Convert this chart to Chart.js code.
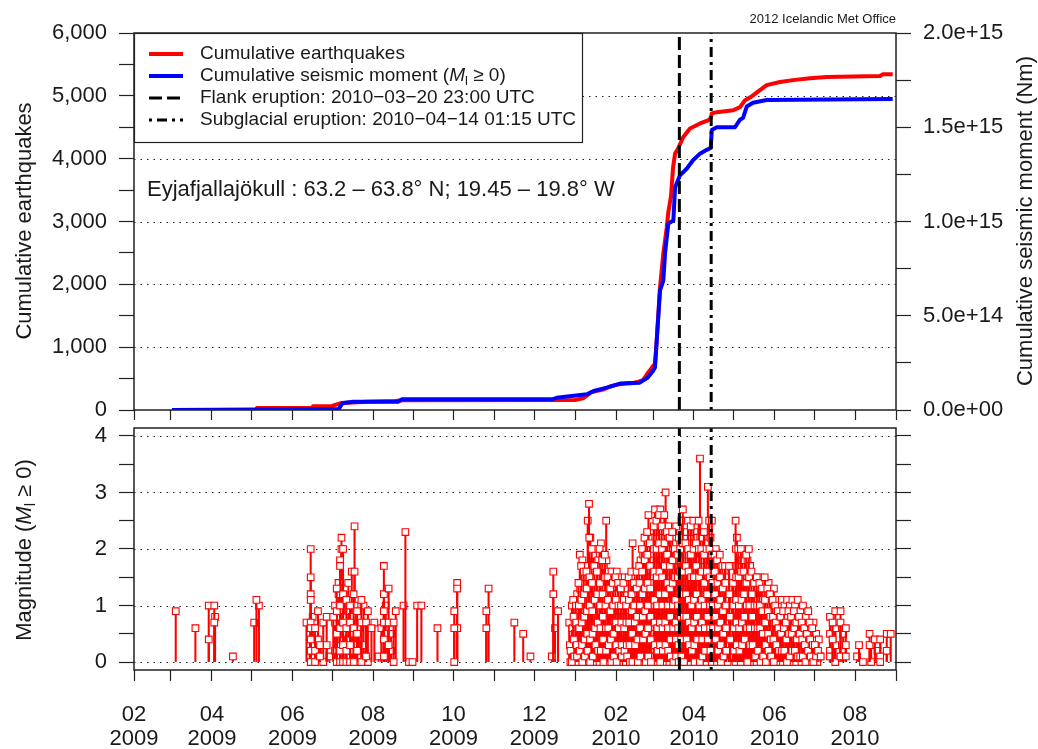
<!DOCTYPE html>
<html>
<head>
<meta charset="utf-8">
<script src="https://cdn.jsdelivr.net/npm/chart.js@4.4.1/dist/chart.umd.min.js"></script>
<style>
  html, body { margin: 0; padding: 0; background: #fff; }
  #wrap { position: relative; width: 1038px; height: 749px; overflow: hidden; }
  #topChart { position: absolute; left: 0; top: 0; width: 1038px; height: 420px; }
  #magChart { position: absolute; left: 0; top: 420px; width: 1038px; height: 329px; }
</style>
</head>
<body>
<div id="wrap">
  <canvas id="topChart" width="1038" height="420"></canvas>
  <canvas id="magChart" width="1038" height="329"></canvas>
</div>
<script>
// all x values are days since 2009-02-01 00:00 UTC
const START = Date.UTC(2009, 1, 1);
function dayOf(iso) { return (Date.parse(iso) - START) / 86400000; }

const tickMonths = ['2009-02', '2009-03', '2009-04', '2009-05', '2009-06', '2009-07', '2009-08',
  '2009-09', '2009-10', '2009-11', '2009-12', '2010-01', '2010-02', '2010-03', '2010-04',
  '2010-05', '2010-06', '2010-07', '2010-08', '2010-09'];

const flankEruption = '2010-03-20T23:00:00Z';
const subglacialEruption = '2010-04-14T01:15:00Z';

const countTickValues = [0, 500, 1000, 1500, 2000, 2500, 3000, 3500, 4000, 4500, 5000, 5500, 6000];
const countTickLabels = ['0', '', '1,000', '', '2,000', '', '3,000', '', '4,000', '', '5,000', '', '6,000'];
const countGrid = [1000, 2000, 3000, 4000, 5000];

const momentTickValues = [0, 2.5e14, 5e14, 7.5e14, 1e15, 1.25e15, 1.5e15, 1.75e15, 2e15];
const momentTickLabels = ['0.0e+00', '', '5.0e+14', '', '1.0e+15', '', '1.5e+15', '', '2.0e+15'];

const magTickValues = [0, 0.5, 1, 1.5, 2, 2.5, 3, 3.5, 4];
const magTickLabels = ['0', '', '1', '', '2', '', '3', '', '4'];
const magGrid = [0, 1, 2, 3, 4];
const magMin = -0.14, magMax = 4.14;

// cumulative number of earthquakes
const eqDays = [28.8, 93.0, 93.1, 135.4, 135.5, 150, 156, 166, 176, 198, 203, 334, 340, 343, 346,
  350, 356, 360, 365, 372, 378, 382, 385, 387, 389, 391, 393, 394.5, 395.8, 398.3, 400.8, 403.4,
  404.6, 406.6, 408.2, 409.7, 412, 415.8, 421, 428.6, 434.7, 436.6, 437.5, 441.3, 453.7, 458.9,
  462.7, 467.7, 474, 479.1, 489.2, 499, 511.9, 524.5, 564.9, 567.2, 574.5];
const eqCount = [0, 0, 30, 30, 60, 65, 107, 120, 132, 145, 155, 160, 185, 230, 280,
  300, 330, 370, 400, 420, 430, 450, 470, 520, 590, 640, 700, 734, 1100, 1950, 2490, 2900,
  3150, 3400, 3860, 4080, 4160, 4340, 4480, 4560, 4610, 4640, 4720, 4740, 4770, 4820,
  4930, 4990, 5090, 5170, 5220, 5250, 5280, 5300, 5315, 5345, 5345];

// cumulative seismic moment (Nm)
const momentDays = [28.8, 155, 158, 166, 200, 203, 317, 320, 343, 348, 352, 358, 368, 383, 389,
  393, 394.5, 395.8, 398.3, 400.8, 402.1, 404.6, 408.4, 409.7, 413.4, 418.5, 423.3, 428.6, 433.7,
  436.7, 437.5, 441.3, 455.1, 458.9, 461.2, 464, 468.7, 479.1, 574.5];
const momentNm = [0, 5e12, 3.7e13, 4.4e13, 4.4e13, 5.7e13, 5.7e13, 6.5e13, 8.3e13, 1.01e14, 1.08e14,
  1.19e14, 1.4e14, 1.45e14, 1.72e14, 2.07e14, 2.25e14, 3.67e14, 6.33e14, 6.86e14, 8.3e14, 9.9e14,
  1.005e15, 1.18e15, 1.245e15, 1.28e15, 1.325e15, 1.36e15, 1.38e15, 1.39e15, 1.485e15, 1.5e15,
  1.5e15, 1.54e15, 1.55e15, 1.61e15, 1.63e15, 1.645e15, 1.65e15];

// magnitudes: [day, magnitudes...]
const quakes2009Spring = [
  [31.6, 0.9], [46.5, 0.6], [56.6, 1.0, 0.4], [60.8, 1.0, 0.7], [61.4, 0.8], [74.9, 0.1],
  [91.0, 0.7], [92.7, 1.1], [94.6, 1.0]
];
const quakes2009Summer = [
  [130.6, 0.7], [133.8, 2.0, 1.5, 1.2, 1.1, 0.7, 0.6, 0.4, 0.2, 0.0], [135.3, 0.8, 0.6, 0.3, 0.1],
  [137.1, 0.6, 0.2, 0.0], [139.3, 0.9, 0.4, 0.2], [140.8, 0.3, 0.1], [143.3, 0.7, 0.0],
  [145.9, 0.8, 0.3], [147.9, 0.1], [150.9, 0.8], [152.2, 1.0, 0.7, 0.2], [153.5, 1.3, 0.9, 0.5, 0.0],
  [154.9, 1.4, 1.2, 0.8, 0.3, 0.1], [156.0, 1.8, 1.7, 1.0, 0.6, 0.2, 0.0], [157.1, 2.2, 2.0, 1.3, 0.9, 0.4],
  [158.3, 2.0, 1.2, 0.7, 0.3, 0.0], [159.5, 1.3, 0.8, 0.5, 0.1], [160.8, 1.1, 0.6, 0.2, 0.0],
  [162.2, 1.4, 0.9, 0.4, 0.1], [163.6, 1.0, 0.7, 0.3, 0.0], [164.9, 1.6, 0.8, 0.5, 0.2],
  [166.3, 1.2, 0.6, 0.0], [167.0, 2.4, 1.6, 1.0, 0.3], [168.9, 0.9, 0.5, 0.2], [170.3, 0.6, 0.1, 0.0],
  [172.2, 1.1, 0.7, 0.0], [173.8, 1.0, 0.3], [175.7, 0.7, 0.1], [177.1, 0.9, 0.0], [179.8, 0.6],
  [182.0, 0.7], [185.2, 0.1], [187.3, 0.6], [189.2, 1.7, 1.2, 0.9, 0.7, 0.4, 0.1], [190.6, 1.0, 0.5, 0.1],
  [192.8, 1.3, 0.7, 0.3], [194.7, 0.5, 0.2], [196.6, 0.7, 0.0], [198.2, 0.9]
];
const quakes2009Autumn = [
  [204.1, 1.0], [205.5, 2.3], [208.2, 0.0], [210.9, 0.0], [214.4, 1.0], [217.6, 1.0], [229.8, 0.6],
  [242.5, 0.9, 0.6, 0.0], [244.7, 1.4, 1.3, 0.6], [266.8, 0.9, 0.6], [268.5, 1.3], [288.0, 0.7],
  [294.7, 0.5], [300.2, 0.1], [316.4, 0.1], [317.5, 1.6, 1.2], [318.8, 0.6], [321.1, 0.9]
];
const quakes2010Winter = [
  [330, 0.7, 0.3, 0.0], [331, 0.2, 0.0], [332, 1.0, 0.6, 0.2], [333, 1.1, 0.8, 0.4, 0.1],
  [334, 0.7, 0.5, 0.2, 0.0], [335, 1.0, 0.7, 0.3, 0.1], [336, 1.2, 0.9, 0.4, 0.0], [337, 1.4, 1.0, 0.6, 0.2],
  [338, 1.9, 1.3, 0.8, 0.5, 0.1], [339, 1.7, 1.1, 0.7, 0.3, 0.0], [340, 1.8, 1.4, 0.9, 0.6, 0.2],
  [341, 1.6, 1.2, 0.8, 0.4, 0.1], [342, 1.5, 1.0, 0.7, 0.3, 0.0], [343, 1.6, 1.3, 0.9, 0.5, 0.2],
  [344, 2.5, 1.7, 1.1, 0.6, 0.1], [345, 2.8, 2.2, 1.5, 1.0, 0.4, 0.0], [346, 2.2, 1.6, 1.2, 0.7, 0.3],
  [347, 2.0, 1.4, 0.9, 0.5, 0.1], [348, 1.9, 1.3, 0.8, 0.2, 0.0], [349, 1.7, 1.1, 0.6, 0.3],
  [350, 2.0, 1.5, 1.0, 0.4, 0.1], [351, 1.6, 1.2, 0.7, 0.2], [352, 1.8, 1.3, 0.9, 0.5, 0.0],
  [353, 2.0, 1.4, 1.0, 0.6, 0.2], [354, 2.1, 1.7, 1.1, 0.7, 0.3], [355, 1.8, 1.2, 0.8, 0.4, 0.0],
  [356, 1.7, 1.3, 0.9, 0.3, 0.1], [357, 1.9, 1.5, 1.0, 0.6, 0.2], [358, 2.5, 1.8, 1.2, 0.7, 0.0],
  [359, 1.5, 1.1, 0.6, 0.3], [360, 1.6, 1.0, 0.5, 0.1], [361, 1.3, 0.9, 0.4, 0.0], [362, 1.6, 1.2, 0.7, 0.2],
  [363, 1.4, 1.0, 0.5, 0.1], [364, 1.2, 0.8, 0.3, 0.0],
  [365, 1.5, 1.1, 0.7, 0.3, 0.0], [366, 1.6, 1.2, 0.8, 0.4, 0.1], [367, 1.4, 1.0, 0.6, 0.2],
  [368, 1.5, 1.1, 0.9, 0.5, 0.0], [369, 1.3, 1.0, 0.7, 0.3, 0.1], [370, 1.2, 0.8, 0.5, 0.0],
  [371, 1.4, 1.1, 0.6, 0.2], [372, 1.5, 1.2, 0.8, 0.4, 0.0], [373, 1.0, 0.7, 0.3, 0.1],
  [374, 1.3, 0.9, 0.6, 0.2], [375, 1.5, 1.1, 0.7, 0.3, 0.0], [376, 1.1, 0.8, 0.4, 0.1],
  [377, 1.6, 1.2, 0.9, 0.5, 0.0], [378, 2.1, 1.5, 1.0, 0.6, 0.2], [379, 1.4, 1.0, 0.7, 0.3],
  [380, 1.2, 0.9, 0.5, 0.1], [381, 1.6, 1.3, 0.8, 0.4, 0.0], [382, 1.5, 1.1, 0.7, 0.2],
  [383, 1.7, 1.4, 1.0, 0.6, 0.1], [384, 1.8, 1.5, 1.1, 0.7, 0.3, 0.0], [385, 2.0, 1.6, 1.2, 0.8, 0.4],
  [386, 1.9, 1.4, 1.0, 0.5, 0.2], [387, 2.2, 1.8, 1.3, 0.9, 0.5, 0.0], [388, 2.0, 1.6, 1.2, 0.7, 0.3],
  [389, 2.3, 1.9, 1.4, 1.0, 0.6, 0.1], [390, 2.6, 2.0, 1.5, 1.1, 0.7, 0.2], [391, 2.1, 1.7, 1.3, 0.8, 0.4, 0.0],
  [392, 1.9, 1.5, 1.1, 0.6, 0.2]
];
const quakes2010Eruption = [
  [393, 2.2, 1.8, 1.4, 1.0, 0.5, 0.1], [394, 2.4, 2.0, 1.6, 1.1, 0.7, 0.3], [395, 2.7, 2.2, 1.7, 1.2, 0.8, 0.4, 0.0],
  [396, 2.5, 2.0, 1.5, 1.0, 0.6, 0.2], [397, 2.3, 1.9, 1.4, 0.9, 0.5, 0.1], [398, 2.6, 2.1, 1.6, 1.2, 0.7, 0.3, 0.0],
  [399, 2.7, 2.3, 1.8, 1.3, 0.9, 0.4], [400, 2.4, 2.0, 1.5, 1.0, 0.6, 0.2], [401, 2.2, 1.8, 1.3, 0.8, 0.4, 0.0],
  [402, 2.6, 2.1, 1.7, 1.2, 0.7, 0.3], [403, 3.0, 2.4, 1.9, 1.4, 0.9, 0.5, 0.1], [404, 2.3, 1.9, 1.4, 1.0, 0.6, 0.2],
  [405, 2.4, 2.0, 1.5, 1.1, 0.7, 0.0], [406, 2.2, 1.7, 1.3, 0.8, 0.4, 0.1], [407, 2.0, 1.6, 1.2, 0.9, 0.5, 0.2],
  [408, 2.3, 1.8, 1.4, 1.0, 0.6, 0.0], [409, 2.1, 1.7, 1.2, 0.8, 0.3], [410, 2.0, 1.5, 1.1, 0.7, 0.4, 0.1],
  [411, 2.4, 1.9, 1.5, 1.0, 0.6, 0.2], [412, 1.9, 1.5, 1.0, 0.6, 0.3, 0.0], [413, 2.2, 1.8, 1.3, 0.9, 0.5],
  [414, 2.0, 1.6, 1.2, 0.8, 0.4, 0.1], [415, 2.5, 2.0, 1.5, 1.1, 0.7, 0.3], [416, 2.7, 2.1, 1.6, 1.2, 0.8, 0.0],
  [417, 2.2, 1.8, 1.3, 0.9, 0.5, 0.2], [418, 2.1, 1.7, 1.2, 0.8, 0.4], [419, 2.3, 1.9, 1.4, 1.0, 0.6, 0.1],
  [420, 2.5, 2.0, 1.6, 1.1, 0.7, 0.3], [421, 2.1, 1.6, 1.2, 0.8, 0.4, 0.0], [422, 2.4, 1.9, 1.5, 1.0, 0.6, 0.2],
  [423, 2.0, 1.6, 1.1, 0.7, 0.3],
  [424, 2.5, 2.0, 1.5, 1.1, 0.7, 0.3, 0.0], [425, 2.3, 1.8, 1.4, 0.9, 0.5, 0.1], [426, 2.1, 1.7, 1.2, 0.8, 0.4],
  [427, 2.2, 1.8, 1.3, 0.9, 0.5, 0.2], [428, 2.5, 2.0, 1.5, 1.0, 0.6, 0.0], [429, 3.6, 2.2, 1.7, 1.2, 0.8, 0.3],
  [430, 2.0, 1.6, 1.1, 0.7, 0.4, 0.1], [431, 2.2, 1.8, 1.3, 0.9, 0.5], [432, 2.3, 1.9, 1.4, 1.0, 0.6, 0.2],
  [433, 1.9, 1.5, 1.1, 0.7, 0.3, 0.0], [434, 2.0, 1.6, 1.2, 0.8, 0.4], [435, 3.1, 2.1, 1.7, 1.2, 0.8, 0.4, 0.1],
  [436, 2.5, 2.0, 1.5, 1.0, 0.6, 0.2], [437, 2.2, 1.8, 1.3, 0.9, 0.5, 0.0], [438, 2.5, 1.9, 1.4, 1.0, 0.6],
  [439, 1.9, 1.5, 1.1, 0.7, 0.3, 0.1], [440, 1.9, 1.6, 1.2, 0.8, 0.4], [441, 2.0, 1.6, 1.1, 0.7, 0.3, 0.0],
  [442, 1.8, 1.4, 1.0, 0.6, 0.2], [443, 1.7, 1.3, 0.9, 0.5, 0.1], [444, 1.9, 1.5, 1.1, 0.7, 0.3, 0.0],
  [445, 1.6, 1.2, 0.8, 0.4], [446, 1.7, 1.3, 0.9, 0.5, 0.1], [447, 1.6, 1.2, 0.8, 0.3],
  [448, 1.7, 1.4, 1.0, 0.6, 0.2], [449, 1.5, 1.1, 0.7, 0.3, 0.0], [451, 1.7, 1.2, 0.8, 0.4],
  [452, 1.3, 0.9, 0.5, 0.1], [454, 1.4, 1.0, 0.6, 0.2]
];
const quakes2010Summer = [
  [455, 1.7, 1.3, 0.9, 0.5, 0.0], [456, 2.5, 2.0, 1.5, 1.1, 0.7, 0.3], [457, 2.2, 1.7, 1.2, 0.8, 0.4, 0.1],
  [458, 2.0, 1.5, 1.0, 0.6, 0.2], [459, 1.9, 1.4, 1.0, 0.6, 0.0], [460, 2.0, 1.6, 1.1, 0.7, 0.3],
  [461, 1.8, 1.4, 0.9, 0.5, 0.1], [462, 1.6, 1.2, 0.8, 0.4], [463, 2.0, 1.5, 1.1, 0.7, 0.2],
  [464, 1.9, 1.4, 1.0, 0.6, 0.0], [465, 1.8, 1.3, 0.9, 0.5, 0.1], [466, 2.0, 1.5, 1.0, 0.6, 0.3],
  [467, 1.7, 1.3, 0.8, 0.4, 0.0], [468, 1.6, 1.2, 0.8, 0.3], [469, 1.5, 1.1, 0.7, 0.2],
  [470, 1.4, 1.0, 0.6, 0.1], [471, 1.5, 1.1, 0.7, 0.3, 0.0], [472, 1.5, 1.0, 0.6, 0.2],
  [473, 1.3, 0.9, 0.5, 0.1], [474, 1.4, 1.0, 0.6, 0.0], [475, 1.5, 1.1, 0.7, 0.3], [476, 1.3, 0.9, 0.5, 0.1],
  [477, 1.4, 1.0, 0.6, 0.2], [478, 1.5, 1.1, 0.7, 0.3, 0.0], [479, 1.2, 0.8, 0.4, 0.1], [480, 1.3, 0.9, 0.5, 0.2],
  [481, 1.4, 1.0, 0.6, 0.0], [482, 1.2, 0.8, 0.4, 0.1], [483, 1.0, 0.7, 0.3], [484, 1.1, 0.8, 0.4, 0.0],
  [485, 1.3, 0.9, 0.5, 0.1], [486, 1.0, 0.7, 0.3], [487, 1.1, 0.8, 0.4, 0.0], [488, 0.9, 0.6, 0.2],
  [489, 1.0, 0.7, 0.3, 0.1], [490, 0.8, 0.5, 0.2], [491, 1.1, 0.7, 0.4, 0.0], [492, 0.9, 0.6, 0.2],
  [493, 1.0, 0.7, 0.3, 0.1], [494, 0.7, 0.4, 0.0], [495, 1.1, 0.8, 0.4, 0.2], [496, 0.9, 0.5, 0.1],
  [497, 1.0, 0.7, 0.3, 0.0], [498, 0.8, 0.5, 0.2], [499, 1.1, 0.7, 0.4, 0.1], [500, 0.9, 0.6, 0.2],
  [501, 1.0, 0.6, 0.3, 0.0], [502, 0.7, 0.4, 0.1], [503, 1.1, 0.8, 0.5, 0.2], [504, 0.8, 0.5, 0.1],
  [505, 0.9, 0.6, 0.3, 0.0], [506, 0.7, 0.4, 0.1], [507, 1.0, 0.6, 0.3], [508, 0.6, 0.3, 0.0],
  [509, 0.8, 0.5, 0.2], [510, 0.5, 0.2], [511, 0.9, 0.6, 0.3, 0.0], [512, 0.7, 0.4, 0.1], [513, 0.5, 0.2],
  [514, 0.6, 0.3, 0.0], [515, 0.7, 0.4], [516, 0.3, 0.1], [517, 0.5, 0.2, 0.0], [518, 0.2], [519, 0.4, 0.1],
  [520, 0.1]
];
const quakes2010Late = [
  [527.0, 0.8, 0.5, 0.2, 0.1], [529.0, 0.7, 0.4], [531.0, 0.9, 0.6, 0.3, 0.0], [535.0, 0.9, 0.7, 0.1],
  [537.0, 0.5, 0.2], [539.0, 0.6, 0.3, 0.1], [547.5, 0.1], [549.0, 0.3], [552.0, 0.0],
  [557.0, 0.5, 0.3], [558.2, 0.3, 0.0], [561.0, 0.4], [563.0, 0.3, 0.2], [565.0, 0.4, 0.1, 0.0],
  [570.0, 0.5, 0.2], [573.0, 0.5]
];

const FONT = 'Liberation Sans';
const INK = '#1a1a1a';
const endDay = dayOf('2010-09-01T00:00:00Z');
const monthDays = tickMonths.map(m => dayOf(m + '-01T00:00:00Z'));
const flankDay = dayOf(flankEruption);
const subDay = dayOf(subglacialEruption);

// rows with many events in a day get spread over that day;
// alternate rows go to two passes so stems and squares overlap as in time order
function toEvents(rows, spread, passes) {
  rows.forEach((r, k) => {
    const mags = r.slice(1);
    mags.forEach((m, i) => {
      const off = mags.length > 1 ? (i / (mags.length - 1) - 0.5) * spread : 0;
      passes[k % 2].push({ x: r[0] + off, y: m });
    });
  });
}
const passA = [], passB = [];
toEvents(quakes2009Spring, 0, [passA, passB]);
toEvents(quakes2009Summer, 0, [passA, passB]);
toEvents(quakes2009Autumn, 0, [passA, passB]);
toEvents(quakes2010Winter, 0.9, [passA, passB]);
toEvents(quakes2010Eruption, 0.9, [passA, passB]);
toEvents(quakes2010Summer, 0.9, [passA, passB]);
toEvents(quakes2010Late, 0, [passA, passB]);

function fixWidth(w) {
  return s => { s.width = w; s.paddingLeft = s.paddingRight = s.paddingTop = s.paddingBottom = 0; };
}
function fixHeight(h) {
  return s => { s.height = h; s.paddingLeft = s.paddingRight = s.paddingTop = s.paddingBottom = 0; };
}
function setTicks(values) {
  return s => { s.ticks = values.map(v => ({ value: v })); };
}
function vline(day, y0, y1) { return [{ x: day, y: y0 }, { x: day, y: y1 }]; }

function richText(ctx, parts, x, y, align) {
  let w = 0;
  parts.forEach(p => { ctx.font = p[1]; w += ctx.measureText(p[0]).width; });
  let cx = align === 'center' ? x - w / 2 : x;
  parts.forEach(p => {
    ctx.font = p[1];
    ctx.fillText(p[0], cx, y + (p[2] || 0));
    cx += ctx.measureText(p[0]).width;
  });
}
function vText(ctx, parts, x, y) {
  ctx.save();
  ctx.translate(x, y);
  ctx.rotate(-Math.PI / 2);
  richText(ctx, parts, 0, 0, 'center');
  ctx.restore();
}

const F19 = '19px "' + FONT + '"';
const F19i = 'italic 19px "' + FONT + '"';
const F13 = '13px "' + FONT + '"';
const F22 = '22px "' + FONT + '"';
const F22i = 'italic 22px "' + FONT + '"';
const F15 = '15px "' + FONT + '"';

function dotGrid(chart, scaleId, values) {
  const { ctx, chartArea: a } = chart;
  const sc = chart.scales[scaleId];
  ctx.save();
  ctx.strokeStyle = '#222';
  ctx.lineWidth = 1.2;
  ctx.setLineDash([1.5, 5]);
  values.forEach(v => {
    const py = Math.round(sc.getPixelForValue(v)) + 0.5;
    ctx.beginPath(); ctx.moveTo(a.left, py); ctx.lineTo(a.right, py); ctx.stroke();
  });
  ctx.restore();
}
function frameBox(chart) {
  const { ctx, chartArea: a } = chart;
  ctx.save();
  ctx.strokeStyle = '#222';
  ctx.lineWidth = 1.5;
  ctx.setLineDash([]);
  ctx.strokeRect(a.left, a.top, a.right - a.left, a.bottom - a.top);
  ctx.restore();
}

const legendRows = [
  { parts: [['Cumulative earthquakes', F19]], color: '#ff0000', width: 4, dash: [] },
  { parts: [['Cumulative seismic moment (', F19], ['M', F19i], ['l', F13, 5], [' \u2265 0)', F19]], color: '#0000ff', width: 4, dash: [] },
  { parts: [['Flank eruption: 2010\u221203\u221220 23:00 UTC', F19]], color: '#000', width: 3, dash: [13, 5] },
  { parts: [['Subglacial eruption: 2010\u221204\u221214 01:15 UTC', F19]], color: '#000', width: 3, dash: [3, 5, 10, 5] }
];

const topDecor = {
  id: 'topDecor',
  beforeDatasetsDraw(chart) { dotGrid(chart, 'y', countGrid); },
  afterDatasetsDraw(chart) {
    const { ctx, chartArea: a } = chart;
    frameBox(chart);
    // legend box
    ctx.save();
    ctx.fillStyle = '#fff';
    ctx.fillRect(a.left, a.top, 448, 109);
    ctx.strokeStyle = '#222';
    ctx.lineWidth = 1.2;
    ctx.strokeRect(a.left + 0.5, a.top + 0.5, 448, 109);
    ctx.textBaseline = 'middle';
    ctx.fillStyle = INK;
    legendRows.forEach((row, i) => {
      const y = 54 + i * 22;
      ctx.save();
      ctx.strokeStyle = row.color;
      ctx.lineWidth = row.width;
      ctx.setLineDash(row.dash);
      ctx.beginPath(); ctx.moveTo(149, y); ctx.lineTo(183, y); ctx.stroke();
      ctx.restore();
      richText(ctx, row.parts, 200, y, 'left');
    });
    // area note
    richText(ctx, [['Eyjafjallaj\u00f6kull : 63.2 \u2013 63.8\u00b0 N; 19.45 \u2013 19.8\u00b0 W', F22]], 147, 190, 'left');
    ctx.restore();
  },
  afterDraw(chart) {
    const { ctx } = chart;
    ctx.save();
    ctx.fillStyle = INK;
    ctx.textBaseline = 'middle';
    ctx.font = F13;
    ctx.textAlign = 'right';
    ctx.fillText('2012 Icelandic Met Office', 896, 19);
    ctx.textAlign = 'left';
    vText(ctx, [['Cumulative earthquakes', F22]], 25, 221);
    vText(ctx, [['Cumulative seismic moment (Nm)', F22]], 1026, 221);
    ctx.restore();
  }
};

const magDecor = {
  id: 'magDecor',
  beforeDatasetsDraw(chart) { dotGrid(chart, 'y', magGrid); },
  afterDatasetsDraw(chart) { frameBox(chart); },
  afterDraw(chart) {
    const { ctx } = chart;
    ctx.save();
    ctx.fillStyle = INK;
    ctx.textBaseline = 'middle';
    vText(ctx, [['Magnitude (', F22], ['M', F22i], ['l', F15, 6], [' \u2265 0)', F22]], 25, 130);
    ctx.restore();
  }
};

const tickFont = { family: FONT, size: 22 };
const tickGrid = len => ({ drawOnChartArea: false, drawTicks: true, tickLength: len, tickColor: '#222', tickWidth: 1.2, color: '#222' });

const stemStyle = { type: 'bar', backgroundColor: '#ff0000', borderWidth: 0, barThickness: 1.4, grouped: false };
const squareStyle = { type: 'scatter', pointStyle: 'rect', pointRadius: 4.7, borderColor: '#ff0000',
  backgroundColor: '#ffffff', borderWidth: 1.1 };

new Chart(document.getElementById('topChart'), {
  type: 'scatter',
  data: {
    datasets: [
      { type: 'line', data: vline(flankDay, 0, 6000), yAxisID: 'y', borderColor: '#000', borderWidth: 3,
        borderDash: [13, 5], pointRadius: 0, order: -2 },
      { type: 'line', data: vline(subDay, 0, 6000), yAxisID: 'y', borderColor: '#000', borderWidth: 3,
        borderDash: [3, 5, 10, 5], pointRadius: 0, order: -1 },
      { type: 'line', data: momentDays.map((d, i) => ({ x: d, y: momentNm[i] })), yAxisID: 'y2',
        borderColor: '#0000ff', borderWidth: 4, pointRadius: 0, borderJoinStyle: 'round', order: 0 },
      { type: 'line', data: eqDays.map((d, i) => ({ x: d, y: eqCount[i] })), yAxisID: 'y',
        borderColor: '#ff0000', borderWidth: 4, pointRadius: 0, borderJoinStyle: 'round', order: 1 }
    ]
  },
  options: {
    responsive: false, animation: false, events: [],
    layout: { padding: { top: 33, left: 0, right: 0, bottom: 0 } },
    plugins: { legend: { display: false }, tooltip: { enabled: false } },
    scales: {
      x: { type: 'linear', min: 0, max: endDay, offset: false, afterBuildTicks: setTicks(monthDays),
        afterFit: fixHeight(10), grid: tickGrid(10), border: { display: false },
        ticks: { callback: () => '', autoSkip: false, maxRotation: 0 } },
      y: { type: 'linear', position: 'left', min: 0, max: 6000, afterBuildTicks: setTicks(countTickValues),
        afterFit: fixWidth(134), grid: tickGrid(15), border: { display: false },
        ticks: { callback: (v, i) => countTickLabels[i], padding: 12, font: tickFont, color: INK, autoSkip: false } },
      y2: { type: 'linear', position: 'right', min: 0, max: 2e15, afterBuildTicks: setTicks(momentTickValues),
        afterFit: fixWidth(142), grid: tickGrid(15), border: { display: false },
        ticks: { callback: (v, i) => momentTickLabels[i], padding: 12, font: tickFont, color: INK, autoSkip: false } }
    }
  },
  plugins: [topDecor]
});

new Chart(document.getElementById('magChart'), {
  type: 'scatter',
  data: {
    datasets: [
      { type: 'line', data: vline(flankDay, magMin, magMax), borderColor: '#000', borderWidth: 3,
        borderDash: [13, 5], pointRadius: 0, order: -2 },
      { type: 'line', data: vline(subDay, magMin, magMax), borderColor: '#000', borderWidth: 3,
        borderDash: [3, 5, 10, 5], pointRadius: 0, order: -1 },
      Object.assign({ data: passB, order: 0 }, squareStyle),
      Object.assign({ data: passB, order: 1 }, stemStyle),
      Object.assign({ data: passA, order: 2 }, squareStyle),
      Object.assign({ data: passA, order: 3 }, stemStyle)
    ]
  },
  options: {
    responsive: false, animation: false, events: [],
    layout: { padding: { top: 8, left: 0, right: 0, bottom: 0 } },
    plugins: { legend: { display: false }, tooltip: { enabled: false } },
    scales: {
      x: { type: 'linear', min: 0, max: endDay, offset: false, afterBuildTicks: setTicks(monthDays),
        afterFit: fixHeight(79), grid: Object.assign(tickGrid(11), { offset: false }), border: { display: false },
        ticks: {
          callback: (v, i) => {
            const [yy, mm] = tickMonths[i].split('-');
            return (i < tickMonths.length - 1 && Number(mm) % 2 === 0) ? [mm, yy] : '';
          },
          autoSkip: false, maxRotation: 0, minRotation: 0, padding: 22,
          font: { family: FONT, size: 22, lineHeight: 1.1 }, color: INK
        } },
      y: { type: 'linear', position: 'left', min: magMin, max: magMax, afterBuildTicks: setTicks(magTickValues),
        afterFit: fixWidth(134), grid: tickGrid(15), border: { display: false },
        ticks: { callback: (v, i) => magTickLabels[i], padding: 12, font: tickFont, color: INK, autoSkip: false } },
      yr: { type: 'linear', position: 'right', min: magMin, max: magMax, afterBuildTicks: setTicks(magTickValues),
        afterFit: fixWidth(142), grid: tickGrid(15), border: { display: false },
        ticks: { callback: () => '', padding: 12, font: tickFont, autoSkip: false } }
    }
  },
  plugins: [magDecor]
});
</script>
</body>
</html>
